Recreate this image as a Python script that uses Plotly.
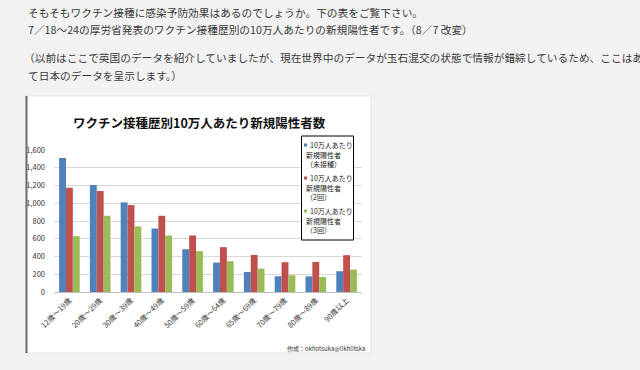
import plotly.graph_objects as go

# ---------------- data ----------------
categories = ["12歳〜19歳", "20歳〜29歳", "30歳〜39歳", "40歳〜49歳", "50歳〜59歳",
              "60歳〜64歳", "65歳〜69歳", "70歳〜79歳", "80歳〜89歳", "90歳以上"]
unvaccinated = [1510, 1205, 1010, 715, 482, 332, 226, 177, 176, 234]
dose2 = [1175, 1138, 980, 859, 637, 505, 418, 336, 339, 415]
dose3 = [629, 859, 739, 637, 460, 347, 264, 189, 170, 253]
series_names = ["10万人あたり新規陽性者（未接種）",
                "10万人あたり新規陽性者（2回）",
                "10万人あたり新規陽性者（3回）"]
series_colors = ["#4f81bd", "#c0504d", "#9bbb59"]
y_ticks = [0, 200, 400, 600, 800, 1000, 1200, 1400, 1600]

title_text = "ワクチン接種歴別10万人あたり新規陽性者数"
credit_text = "作成：okhotsuka@0kh0tska"
page_lines = [
    "そもそもワクチン接種に感染予防効果はあるのでしょうか。下の表をご覧下さい。",
    "7／18〜24の厚労省発表のワクチン接種歴別の10万人あたりの新規陽性者です。（8／7 改変）",
    "（以前はここで英国のデータを紹介していましたが、現在世界中のデータが玉石混交の状態で情報が錯綜しているため、ここはあえ",
    "て日本のデータを呈示します。）",
]

# ---------------- geometry helpers (pixel -> paper) ----------------
W, H = 640, 370
L, R, T, B = 54, 362, 150, 292  # plot area in pixels


def px(x):
    return (x - L) / (R - L)


def py(y):
    return (B - y) / (B - T)


FONT = "Noto Sans CJK JP"

fig = go.Figure()
for name, vals, col in zip(series_names, [unvaccinated, dose2, dose3], series_colors):
    fig.add_trace(go.Bar(x=categories, y=vals, name=name, marker_color=col,
                         marker_line_width=0, showlegend=False))

shapes = []
annotations = []

# chart "image" background
shapes.append(dict(type="rect", xref="paper", yref="paper", layer="below",
                   x0=px(26), x1=px(371), y0=py(353), y1=py(96),
                   fillcolor="white", line=dict(color="#e4e4e4", width=1)))
shapes.append(dict(type="line", xref="paper", yref="paper", layer="above",
                   x0=px(26.5), x1=px(26.5), y0=py(353), y1=py(96),
                   line=dict(color="#6b6b6b", width=2)))

# title
annotations.append(dict(text="<b>" + title_text + "</b>", xref="paper", yref="paper",
                        x=px(199), y=py(122), xanchor="center", yanchor="middle",
                        showarrow=False, font=dict(family=FONT, size=12.5, color="#111")))

# legend (drawn manually to match the small boxed legend)
shapes.append(dict(type="rect", xref="paper", yref="paper", layer="above",
                   x0=px(301.5), x1=px(353.5), y0=py(240), y1=py(136),
                   fillcolor="white", line=dict(color="#000", width=1)))
entry_tops = [145, 178, 211]
line_gap = 9.6
for name, col, y0 in zip(series_names, series_colors, entry_tops):
    head, rest = name.split("新規")
    parts = [head, "新規" + rest.split("（")[0], "（" + rest.split("（")[1]]
    shapes.append(dict(type="rect", xref="paper", yref="paper", layer="above",
                       x0=px(304), x1=px(307), y0=py(y0 + 1.5), y1=py(y0 - 1.5),
                       fillcolor=col, line=dict(width=0)))
    for i, t in enumerate(parts):
        annotations.append(dict(text=t, xref="paper", yref="paper",
                                x=px(308 if i == 0 else 304), y=py(y0 + i * line_gap),
                                xanchor="left", yanchor="middle", showarrow=False,
                                font=dict(family=FONT, size=7, color="#222")))

# credit
annotations.append(dict(text=credit_text, xref="paper", yref="paper",
                        x=px(367), y=py(348), xanchor="right", yanchor="middle",
                        showarrow=False, font=dict(family=FONT, size=6, color="#333")))

# page text above the chart
for t, yy in zip(page_lines, [12, 29, 57, 75]):
    annotations.append(dict(text=t, xref="paper", yref="paper",
                            x=px(22 if t.startswith("（") else 26), y=py(yy),
                            xanchor="left", yanchor="middle", showarrow=False,
                            font=dict(family=FONT, size=10.7, color="#3a3a3a")))

fig.update_layout(
    width=W, height=H,
    margin=dict(l=L, r=W - R, t=T, b=H - B, pad=0),
    paper_bgcolor="#f2f2f2", plot_bgcolor="white",
    barmode="group", bargap=0.33, bargroupgap=0,
    showlegend=False,
    shapes=shapes, annotations=annotations,
    font=dict(family=FONT, color="#404040"),
)
fig.update_xaxes(type="category", tickangle=-45, showline=True, linecolor="#bfbfbf",
                 linewidth=1, ticks="", showgrid=False,
                 tickfont=dict(family=FONT, size=7.5, color="#333"))
fig.update_yaxes(range=[0, 1600], tickvals=y_ticks, tickformat=",", showline=False,
                 gridcolor="#d9d9d9", gridwidth=1, zeroline=False, ticks="",
                 ticklabelstandoff=8,
                 tickfont=dict(family=FONT, size=7.5, color="#333"))

fig.write_html(
    "out.html",
    config={"displayModeBar": False},
    post_script="document.body.style.margin='0';document.body.style.background='#f2f2f2';",
)
